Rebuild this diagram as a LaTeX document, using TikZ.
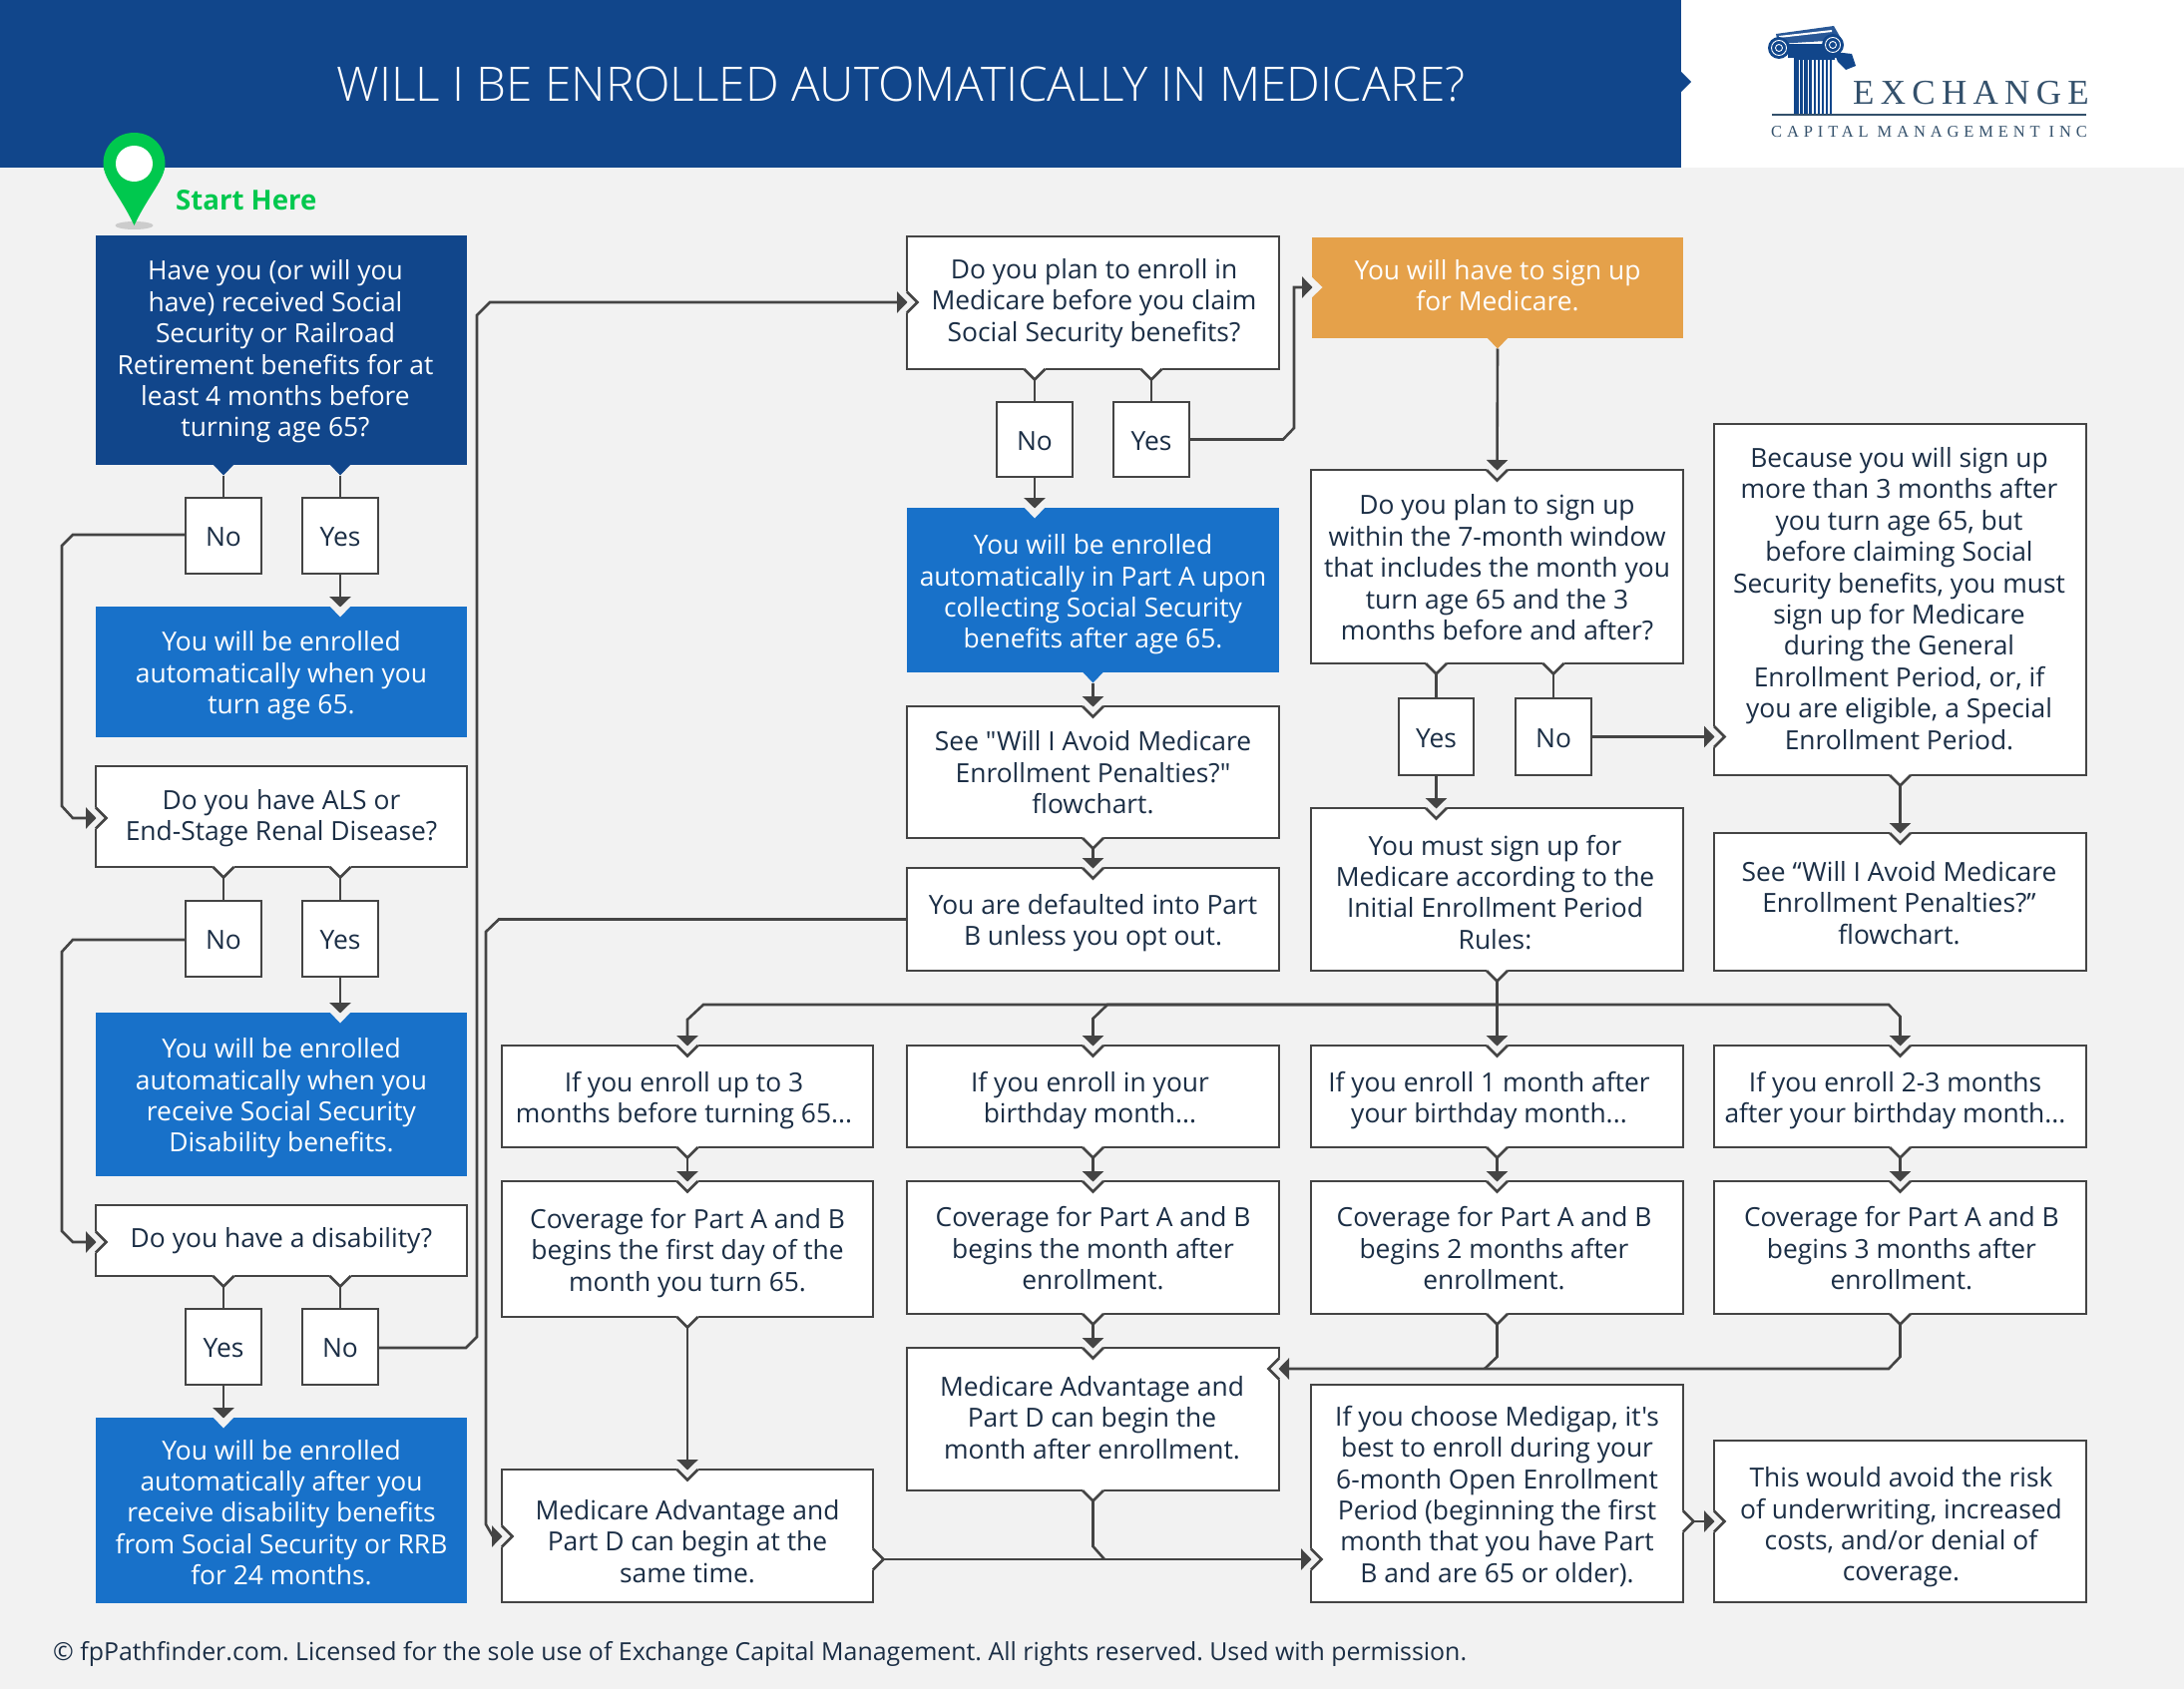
\documentclass[tikz,border=0pt]{standalone}
\usepackage{fontspec}
\usetikzlibrary{arrows.meta}
\newfontfamily\osfont{Open Sans}
\newfontfamily\oslight{Open Sans Light}
\newfontfamily\logofont[LetterSpace=18]{Liberation Serif}
\newfontfamily\logosmall[LetterSpace=29.5]{Liberation Serif}
\definecolor{bgc}{HTML}{F2F2F2}
\definecolor{navy}{HTML}{11468B}
\definecolor{midblue}{HTML}{1871C9}
\definecolor{orng}{HTML}{E5A14A}
\definecolor{linec}{HTML}{444444}
\definecolor{txt}{HTML}{1B2E45}
\definecolor{pingreen}{HTML}{00C84E}
\definecolor{logoc}{HTML}{33506B}
\tikzset{
  x=1pt,y=-1pt,
  base/.style={inner sep=0pt,outer sep=0pt,font=\osfont\fontsize{26.4}{31.4}\selectfont},
  wbox/.style={base,draw=linec,line width=2.7pt,fill=white,text=txt},
  navybox/.style={base,fill=navy,text=white},
  bluebox/.style={base,fill=midblue,text=white},
  orbox/.style={base,fill=orng,text=white},
  bord/.style={draw=linec,line width=2.7pt,miter limit=10},
  wire/.style={draw=linec,line width=2.6pt,line join=miter},
  arr/.style={wire,-{Triangle[width=21pt,length=10.5pt]}},
}
\def\tdy{0}\def\tdx{0}
\newcommand\bx[7][wbox]{%
  \pgfmathsetmacro\bxw{#5-#3}\pgfmathsetmacro\bxh{#6-#4}%
  \pgfmathsetmacro\hh{24+2*max(\tdy+3.5,0)}\pgfmathsetmacro\dd{9.4+2*max(-\tdy-3.5,0)}%
  \pgfmathsetmacro\kl{2*max(\tdx,0)}\pgfmathsetmacro\kr{2*max(-\tdx,0)}%
  \node[#1,minimum width=\bxw pt,minimum height=\bxh pt] (#2) at ({(#3+#5)/2},{(#4+#6)/2})
    {\kern\kl pt\begin{tabular}{@{}c@{}}\rule{0pt}{\hh pt}#7\rule[-\dd pt]{0pt}{\dd pt}\end{tabular}\kern\kr pt};%
  \gdef\tdy{0}\gdef\tdx{0}}
% chevron in the flow direction: rot 0 = down, 90 = right, -90 = left
\newcommand\pOut[3]{\begin{scope}[shift={(#3)},rotate=#1]
  \fill[white] (-10.5,-1.6)--(10.5,-1.6)--(10.5,0)--(0,10.5)--(-10.5,0)--cycle;
  \draw[bord] (-10.5,0)--(0,10.5)--(10.5,0);
  \coordinate (#2) at (0,10.5);\end{scope}}
\newcommand\pIn[3]{\begin{scope}[shift={(#3)},rotate=#1]
  \fill[bgc] (-10.5,-1.6)--(10.5,-1.6)--(10.5,0)--(0,10.5)--(-10.5,0)--cycle;
  \draw[bord] (-10.5,0)--(0,10.5)--(10.5,0);
  \coordinate (#2) at (0,0.5);\end{scope}}
\newcommand\pOutF[4]{\begin{scope}[shift={(#3)},rotate=#1]
  \fill[#4] (-10.5,-0.5)--(10.5,-0.5)--(0,10.5)--cycle;
  \coordinate (#2) at (0,10.5);\end{scope}}
\newcommand\pInF[3]{\begin{scope}[shift={(#3)},rotate=#1]
  \fill[bgc] (-10.5,-0.5)--(10.5,-0.5)--(0,10.5)--cycle;
  \coordinate (#2) at (0,0.5);\end{scope}}
\begin{document}
\begin{tikzpicture}
\useasboundingbox (0,0) rectangle (2189,1693);
\fill[bgc] (0,0) rectangle (2189,1693);
% header
\fill[white] (1685,0) rectangle (2189,168);
\node[fill=navy,minimum width=1685pt,minimum height=168pt,inner sep=0pt,outer sep=0pt] (hdr) at (842.5,84) {};
\fill[navy] (1685,72) -- (1695,82) -- (1685,92) -- cycle;
\node[text=white,inner sep=0pt,font=\oslight\fontsize{47.7}{50}\selectfont] (title) at (903,84) {WILL I BE ENROLLED AUTOMATICALLY IN MEDICARE?};
% logo
\begin{scope}
  \fill[navy] (1798,58) rectangle (1839,115);
  \foreach \xx/\ww in {1803/0.8,1807/1,1812/1.2,1816/2.2,1820/1.6,1824/2.4,1828/2.4,1832/2.2,1835.5/3}
    \fill[white] (\xx,60) rectangle (\xx+\ww,114);
  \fill[navy!90] (1780,34) -- (1838,26) -- (1846,40) -- (1782,44) -- cycle;
  \fill[white] (1783,36) -- (1836,30) -- (1836,32) -- (1783,38) -- cycle;
  \fill[navy] (1792,44) rectangle (1845,58);
  \fill[navy] (1783,48) circle (11);
  \fill[navy] (1837,45) circle (11);
  \fill[navy] (1838,52) -- (1856,54) -- (1860,66) -- (1850,70) -- (1842,62) -- cycle;
  \draw[white,line width=0.9pt] (1783,48) circle (7.5) (1783,48) circle (3.5) (1837,45) circle (7.5) (1837,45) circle (3.5);
  \draw[logoc,line width=2pt] (1776,115) -- (2091,115);
\end{scope}
\node[anchor=base west,inner sep=0pt,text=logoc,font=\logofont\fontsize{35}{35}\selectfont] (lg1) at (1857,105) {EXCHANGE};
\node[anchor=base west,inner sep=0pt,text=logoc,font=\logosmall\fontsize{16.5}{17}\selectfont] (lg2) at (1775,138) {CAPITAL MANAGEMENT INC};
% pin
\fill[black!20] (134.5,226) ellipse (19 and 4);
\fill[pingreen] (134.5,226) .. controls (120,195) and (103.5,180) .. (103.5,164) .. controls (103.5,146) and (117,133) .. (134.5,133) .. controls (152,133) and (165.5,146) .. (165.5,164) .. controls (165.5,180) and (149,195) .. (134.5,226) -- cycle;
\fill[white] (134.5,164) ellipse (18.5 and 18);
\node[anchor=base west,inner sep=0pt,text=pingreen,font=\osfont\bfseries\fontsize{27.6}{30}\selectfont] (start) at (176,211) {Start Here};
% column A
\def\tdy{-2.3}\def\tdx{-6}
\bx[navybox]{q1}{96}{236}{468}{466}{Have you (or will you\\have) received Social\\Security or Railroad\\Retirement benefits for at\\least 4 months before\\turning age 65?}
\bx{no1}{186}{499}{262}{575}{No}
\bx{yes1}{303}{499}{379}{575}{Yes}
\bx[bluebox]{r1}{96}{608}{468}{739}{You will be enrolled\\automatically when you\\turn age 65.}
\def\tdy{-2.5}
\bx{q2}{96}{768}{468}{869}{Do you have ALS or\\End-Stage Renal Disease?}
\bx{no2}{186}{903}{262}{979}{No}
\bx{yes2}{303}{903}{379}{979}{Yes}
\bx[bluebox]{r2}{96}{1015}{468}{1179}{You will be enrolled\\automatically when you\\receive Social Security\\Disability benefits.}
\def\tdy{-3.5}
\bx{q3}{96}{1208}{468}{1279}{Do you have a disability?}
\bx{yes3}{186}{1312}{262}{1388}{Yes}
\bx{no3}{303}{1312}{379}{1388}{No}
\def\tdy{1}
\bx[bluebox]{r3}{96}{1421}{468}{1607}{You will be enrolled\\automatically after you\\receive disability benefits\\from Social Security or RRB\\for 24 months.}
% column D
\def\tdy{-3.6}\def\tdx{1}
\bx{d1}{909}{237}{1282}{370}{Do you plan to enroll in\\Medicare before you claim\\Social Security benefits?}
\bx{no4}{999}{403}{1075}{478}{No}
\bx{yes4}{1116}{403}{1192}{478}{Yes}
\def\tdy{0.5}
\bx[bluebox]{d2}{909}{509}{1282}{674}{You will be enrolled\\automatically in Part A upon\\collecting Social Security\\benefits after age 65.}
\def\tdy{-0.7}
\bx{d3}{909}{708}{1282}{840}{See "Will I Avoid Medicare\\Enrollment Penalties?"\\flowchart.}
\bx{d4}{909}{870}{1282}{973}{You are defaulted into Part\\B unless you opt out.}
% column E
\def\tdy{-3.5}
\bx[orbox]{e1}{1315}{238}{1687}{339}{You will have to sign up\\for Medicare.}
\bx{e2}{1314}{471}{1687}{665}{Do you plan to sign up\\within the 7-month window\\that includes the month you\\turn age 65 and the 3\\months before and after?}
\bx{yes5}{1402}{700}{1477}{777}{Yes}
\bx{no5}{1519}{700}{1595}{777}{No}
\def\tdy{2}\def\tdx{-2}
\bx{e3}{1314}{810}{1687}{973}{You must sign up for\\Medicare according to the\\Initial Enrollment Period\\Rules:}
% column F
\def\tdy{-2}\def\tdx{-1}
\bx{f1}{1718}{425}{2091}{777}{Because you will sign up\\more than 3 months after\\you turn age 65, but\\before claiming Social\\Security benefits, you must\\sign up for Medicare\\during the General\\Enrollment Period, or, if\\you are eligible, a Special\\Enrollment Period.}
\def\tdx{-1}
\bx{f2}{1718}{835}{2091}{973}{See “Will I Avoid Medicare\\Enrollment Penalties?”\\flowchart.}
% enroll row
\def\tdy{0.5}\def\tdx{-3.5}
\bx{en1}{503}{1048}{875}{1150}{If you enroll up to 3\\months before turning 65...}
\def\tdy{0.5}\def\tdx{-3}
\bx{en2}{909}{1048}{1282}{1150}{If you enroll in your\\birthday month...}
\def\tdy{0.5}\def\tdx{-8}
\bx{en3}{1314}{1048}{1687}{1150}{If you enroll 1 month after\\your birthday month...}
\def\tdy{0.5}\def\tdx{-5}
\bx{en4}{1718}{1048}{2091}{1150}{If you enroll 2-3 months\\after your birthday month...}
% coverage row
\bx{co1}{503}{1184}{875}{1320}{Coverage for Part A and B\\begins the first day of the\\month you turn 65.}
\bx{co2}{909}{1184}{1282}{1317}{Coverage for Part A and B\\begins the month after\\enrollment.}
\def\tdx{-3}
\bx{co3}{1314}{1184}{1687}{1317}{Coverage for Part A and B\\begins 2 months after\\enrollment.}
\def\tdx{1.4}
\bx{co4}{1718}{1184}{2091}{1317}{Coverage for Part A and B\\begins 3 months after\\enrollment.}
% bottom
\def\tdy{-2.7}\def\tdx{-1}
\bx{ma2}{909}{1351}{1282}{1494}{Medicare Advantage and\\Part D can begin the\\month after enrollment.}
\def\tdy{4.5}
\bx{ma1}{503}{1473}{875}{1606}{Medicare Advantage and\\Part D can begin at the\\same time.}
\bx{mg}{1314}{1388}{1687}{1606}{If you choose Medigap, it's\\best to enroll during your\\6-month Open Enrollment\\Period (beginning the first\\month that you have Part\\B and are 65 or older).}
\def\tdy{2}\def\tdx{1}
\bx{f8}{1718}{1444}{2091}{1606}{This would avoid the risk\\of underwriting, increased\\costs, and/or denial of\\coverage.}
% ports
\pOutF{0}{q1a}{q1.south -| no1.north}{navy}
\pOutF{0}{q1b}{q1.south -| yes1.north}{navy}
\pInF{0}{r1p}{r1.north -| yes1.south}
\pIn{90}{q2p}{96,820}
\pOut{0}{q2a}{q2.south -| no2.north}
\pOut{0}{q2b}{q2.south -| yes2.north}
\pInF{0}{r2p}{r2.north -| yes2.south}
\pIn{90}{q3p}{96,1245}
\pOut{0}{q3a}{q3.south -| yes3.north}
\pOut{0}{q3b}{q3.south -| no3.north}
\pInF{0}{r3p}{r3.north -| yes3.south}
\pIn{90}{d1p}{909,303}
\pOut{0}{d1a}{d1.south -| no4.north}
\pOut{0}{d1b}{d1.south -| yes4.north}
\pInF{0}{d2p}{d2.north -| no4.south}
\pOutF{0}{d2a}{d2.south}{midblue}
\pIn{0}{d3p}{d3.north}
\pOut{0}{d3a}{d3.south}
\pIn{0}{d4p}{d4.north}
\pInF{90}{e1p}{e1.west |- 0,288}
\pOutF{0}{e1a}{e1.south}{orng}
\pIn{0}{e2p}{e2.north}
\pOut{0}{e2a}{e2.south -| yes5.north}
\pOut{0}{e2b}{e2.south -| no5.north}
\pIn{0}{e3p}{e3.north -| yes5.south}
\pOut{0}{e3a}{e3.south}
\pIn{90}{f1p}{f1.west |- no5.east}
\pOut{0}{f1a}{f1.south}
\pIn{0}{f2p}{f2.north}
\foreach \n in {1,2,3,4}{
  \pIn{0}{en\n p}{en\n.north}
  \pOut{0}{en\n a}{en\n.south}
  \pIn{0}{co\n p}{co\n.north}
  \pOut{0}{co\n a}{co\n.south}
}
\pIn{0}{ma2p}{ma2.north}
\pIn{-90}{ma2r}{1282,1372}
\pOut{0}{ma2a}{ma2.south}
\pIn{0}{ma1p}{ma1.north}
\pIn{90}{ma1l}{503,1540}
\pOut{90}{ma1r}{875,1563}
\pIn{90}{mgp}{1314,1563}
\pOut{90}{mgr}{1687,1525}
\pIn{90}{f8p}{1718,1525}
% connectors
\draw[wire] (q1a) -- (no1.north);
\draw[wire] (q1b) -- (yes1.north);
\draw[arr] (yes1.south) -- (r1p);
\draw[arr] (no1.west |- 0,536) -- (73,536) -- (62,547) -- (62,808) -- (73,820) -- (q2p);
\draw[wire] (q2a) -- (no2.north);
\draw[wire] (q2b) -- (yes2.north);
\draw[arr] (yes2.south) -- (r2p);
\draw[arr] (no2.west |- 0,942) -- (73,942) -- (62,954) -- (62,1234) -- (73,1245) -- (q3p);
\draw[wire] (q3a) -- (yes3.north);
\draw[wire] (q3b) -- (no3.north);
\draw[arr] (yes3.south) -- (r3p);
\draw[arr] (no3.east |- 0,1351) -- (467,1351) -- (478,1340) -- (478,316) -- (491,303) -- (d1p);
\draw[wire] (d1a) -- (no4.north);
\draw[wire] (d1b) -- (yes4.north);
\draw[arr] (no4.south) -- (d2p);
\draw[arr] (yes4.east) -- (1286,440.5) -- (1297,429) -- (1297,288) -- (e1p);
\draw[arr] (d2a) -- (d3p);
\draw[arr] (d3a) -- (d4p);
\draw[arr] (d4.west) -- (500,921.5) -- (487,934) -- (487,1528) -- (494,1540) -- (ma1l);
\draw[arr] (e1a) -- (e2p);
\draw[wire] (e2a) -- (yes5.north);
\draw[wire] (e2b) -- (no5.north);
\draw[arr] (yes5.south) -- (e3p);
\draw[arr] (no5.east) -- (f1p);
\draw[arr] (f1a) -- (f2p);
\coordinate (busE) at (1500.5,1007);
\draw[arr] (e3a) -- (en3p);
\draw[arr] (busE) -- (705,1007) -- (689,1022) -- (en1p);
\draw[arr] (busE) -- (1110,1007) -- (1095.5,1021) -- (en2p);
\draw[arr] (busE) -- (1893,1007) -- (1904.5,1019) -- (en4p);
\foreach \n in {1,2,3,4}{ \draw[arr] (en\n a) -- (co\n p); }
\draw[arr] (co1a) -- (ma1p);
\draw[arr] (co2a) -- (ma2p);
\draw[wire] (co3a) -- (1500.5,1360) -- (1488,1372);
\draw[arr] (co4a) -- (1904.5,1360) -- (1893,1372) -- (ma2r);
\draw[arr] (ma1r) -- (mgp);
\draw[wire] (ma2a) -- (1095.5,1550) -- (1107,1563);
\draw[arr] (mgr) -- (f8p);
% footer
\node[anchor=west,inner sep=0pt,text=txt,font=\osfont\frenchspacing\fontsize{24.9}{30}\selectfont] (foot) at (53,1658) {© fpPathfinder.com. Licensed for the sole use of Exchange Capital Management. All rights reserved. Used with permission.};
\end{tikzpicture}
\end{document}
